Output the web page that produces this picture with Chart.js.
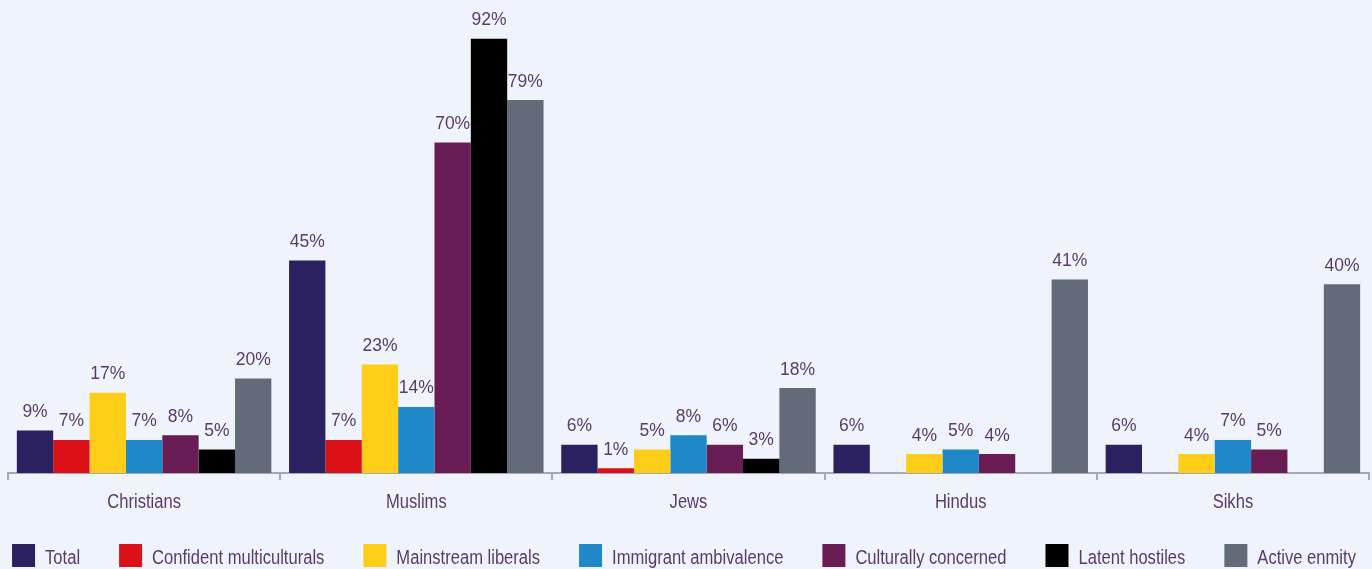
<!DOCTYPE html>
<html>
<head>
<meta charset="utf-8">
<script src="https://cdn.jsdelivr.net/npm/chart.js@4/dist/chart.umd.min.js"></script>
<style>
  html, body { margin: 0; padding: 0; background: #eff4fc; }
  #wrap { width: 1372px; height: 569px; }
</style>
</head>
<body>
<div id="wrap"><canvas id="chart" width="1372" height="569"></canvas></div>
<script>
const groups = ['Christians', 'Muslims', 'Jews', 'Hindus', 'Sikhs'];

const total = [9, 45, 6, 6, 6];
const confidentMulticulturals = [7, 7, 1, null, null];
const mainstreamLiberals = [17, 23, 5, 4, 4];
const immigrantAmbivalence = [7, 14, 8, 5, 7];
const culturallyConcerned = [8, 70, 6, 4, 5];
const latentHostiles = [5, 92, 3, null, null];
const activeEnmity = [20, 79, 18, 41, 40];

const textColour = '#5b3a6b';
const fontFamily = '"Liberation Sans", Arial, sans-serif';
// the labels use a narrow face; squeeze the regular one to get close
const narrow = 0.85;

function series(label, data, colour) {
    return {
        label: label,
        data: data,
        backgroundColor: colour,
        borderWidth: 0,
        barPercentage: 1,
        categoryPercentage: 0.935
    };
}

function narrowText(ctx, text, x, y, align) {
    ctx.save();
    ctx.translate(x, y);
    ctx.scale(narrow, 1);
    ctx.textAlign = align;
    ctx.fillText(text, 0, 0);
    ctx.restore();
}

// percentages above the bars
const valueLabels = {
    id: 'valueLabels',
    afterDatasetsDraw(chart) {
        const ctx = chart.ctx;
        ctx.save();
        ctx.font = '17.5px ' + fontFamily;
        ctx.fillStyle = textColour;
        ctx.textAlign = 'center';
        ctx.textBaseline = 'alphabetic';
        chart.data.datasets.forEach((ds, i) => {
            chart.getDatasetMeta(i).data.forEach((bar, j) => {
                const v = ds.data[j];
                if (v === null || v === undefined) return;
                ctx.fillText(v + '%', bar.x, bar.y - 13.5);
            });
        });
        ctx.restore();
    }
};

// group names under the axis and the legend row at the bottom
const narrowTexts = {
    id: 'narrowTexts',
    afterDraw(chart) {
        const ctx = chart.ctx;
        const x = chart.scales.x;
        ctx.save();
        ctx.font = '19.5px ' + fontFamily;
        ctx.fillStyle = textColour;
        ctx.textBaseline = 'alphabetic';
        chart.data.labels.forEach((name, i) => {
            narrowText(ctx, name, x.getPixelForValue(i), x.bottom + 28, 'center');
        });

        const box = 23, gap = 10, pad = 39;
        const items = chart.data.datasets.map(ds => ({
            label: ds.label,
            colour: ds.backgroundColor,
            w: ctx.measureText(ds.label).width * narrow
        }));
        let full = items.reduce((s, it) => s + box + gap + it.w, 0) + pad * (items.length - 1);
        let left = (chart.width - full) / 2 - 2;
        const top = chart.height - 25;
        items.forEach(it => {
            ctx.fillStyle = it.colour;
            ctx.fillRect(left, top, box, box);
            ctx.fillStyle = textColour;
            narrowText(ctx, it.label, left + box + gap, top + 20, 'left');
            left += box + gap + it.w + pad;
        });
        ctx.restore();
    }
};

new Chart(document.getElementById('chart').getContext('2d'), {
    type: 'bar',
    data: {
        labels: groups,
        datasets: [
            series('Total', total, '#2b2160'),
            series('Confident multiculturals', confidentMulticulturals, '#dc1118'),
            series('Mainstream liberals', mainstreamLiberals, '#fdcd17'),
            series('Immigrant ambivalence', immigrantAmbivalence, '#1f88c9'),
            series('Culturally concerned', culturallyConcerned, '#6a1d54'),
            series('Latent hostiles', latentHostiles, '#000000'),
            series('Active enmity', activeEnmity, '#646b78')
        ]
    },
    options: {
        responsive: false,
        animation: false,
        layout: { padding: { left: 8, right: 3, top: 1, bottom: 89 } },
        scales: {
            x: {
                offset: true,
                border: { display: true, color: '#a7a7b9', width: 2 },
                grid: {
                    offset: true,
                    drawOnChartArea: false,
                    drawTicks: true,
                    tickLength: 7,
                    color: '#a7a7b9',
                    lineWidth: 2
                },
                ticks: { display: false }
            },
            y: {
                display: false,
                min: 0,
                max: 100
            }
        },
        plugins: {
            legend: { display: false },
            tooltip: { enabled: false }
        }
    },
    plugins: [valueLabels, narrowTexts]
});
</script>
</body>
</html>
